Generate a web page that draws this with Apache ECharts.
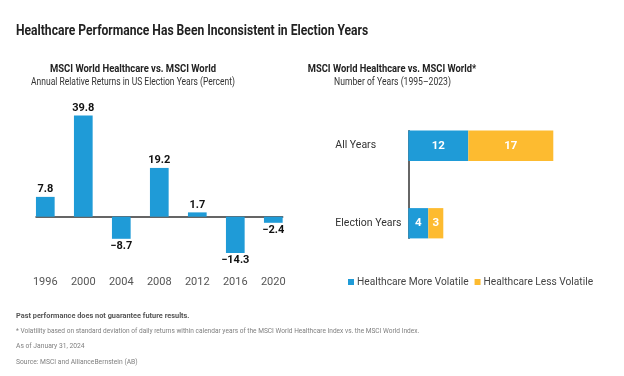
<!DOCTYPE html>
<html>
<head>
<meta charset="utf-8">
<script src="https://cdn.jsdelivr.net/npm/echarts@6/dist/echarts.min.js"></script>
<style>html,body{margin:0;padding:0;background:#fff}#c{width:624px;height:376px}</style>
</head>
<body>
<div id="c"></div>
<script>
const years = ['1996', '2000', '2004', '2008', '2012', '2016', '2020'];
const relReturns = [7.8, 39.8, -8.7, 19.2, 1.7, -14.3, -2.4];
const groups = ['All Years', 'Election Years'];
const moreVolatile = [12, 4];
const lessVolatile = [17, 3];
const seriesNames = ['Healthcare More Volatile', 'Healthcare Less Volatile'];

const BLUE = '#1f9bd7', YELLOW = '#fdbb30';
const FF = 'Roboto, "Liberation Sans", sans-serif';
const fmt = v => (v < 0 ? '\u2212' + Math.abs(v) : String(v));

function txt(text, x, y, size, weight, fill, align, sx) {
  return { type: 'text', x: x, y: y, scaleX: sx, silent: true,
    style: { text: text, fontSize: size, fontWeight: weight, fontFamily: FF, fill: fill,
      textAlign: align, textVerticalAlign: 'middle' } };
}

const chart = echarts.init(document.getElementById('c'), null, { renderer: 'canvas' });
chart.setOption({
  animation: false,
  backgroundColor: '#fff',
  graphic: [
    txt('Healthcare Performance Has Been Inconsistent in Election Years', 16, 31, 14, 'bold', '#222', 'left', 0.865),
    txt('MSCI World Healthcare vs. MSCI World', 133, 69, 10.5, 'bold', '#222', 'center', 0.9),
    txt('Annual Relative Returns in US Election Years (Percent)', 133, 82, 10.5, 'normal', '#333', 'center', 0.81),
    txt('MSCI World Healthcare vs. MSCI World*', 392, 69, 10.5, 'bold', '#222', 'center', 0.89),
    txt('Number of Years (1995\u20132023)', 392.5, 82, 10.5, 'normal', '#333', 'center', 0.82),
    txt('Past performance does not guarantee future results.', 16, 315.7, 8, 'bold', '#555', 'left', 0.92),
    txt('* Volatility based on standard deviation of daily returns within calendar years of the MSCI World Healthcare Index vs. the MSCI World Index.', 16, 330.7, 8, 'normal', '#808080', 'left', 0.82),
    txt('As of January 31, 2024', 16, 346, 8, 'normal', '#808080', 'left', 0.84),
    txt('Source: MSCI and AllianceBernstein (AB)', 16, 361.7, 8, 'normal', '#808080', 'left', 0.84)
  ],
  legend: {
    data: seriesNames,
    left: 343, top: 272,
    icon: 'rect', itemWidth: 6, itemHeight: 6, itemGap: 6,
    textStyle: { fontSize: 10.2, color: '#444', fontFamily: FF, padding: [0, 0, 0, -2] }
  },
  grid: [
    { left: 26.3, right: 331.7, top: 102.4, bottom: 108.5 },
    { left: 36, right: 341.3, top: 102.4, bottom: 108.5 },
    { left: 408.3, width: 200, top: 107, height: 155 },
    { left: 408.3, width: 10, top: 130.7, height: 107.6 }
  ],
  xAxis: [
    { gridIndex: 0, type: 'category', data: years, axisLine: { show: false }, axisTick: { show: false },
      axisLabel: { margin: 9, fontSize: 11, color: '#555', fontFamily: FF } },
    { gridIndex: 1, type: 'category', data: years, axisLine: { show: true, onZero: true, lineStyle: { color: '#333', width: 1.5 } },
      axisTick: { show: false }, axisLabel: { show: false } },
    { gridIndex: 2, type: 'value', min: 0, max: 40, show: false },
    { gridIndex: 3, type: 'value', min: 0, max: 10, show: false }
  ],
  yAxis: [
    { gridIndex: 0, type: 'value', min: -20, max: 45, show: false },
    { gridIndex: 1, type: 'value', min: -20, max: 45, show: false },
    { gridIndex: 2, type: 'category', data: groups, inverse: true, axisLine: { show: false }, axisTick: { show: false },
      axisLabel: { align: 'left', margin: 73, fontSize: 10.5, color: '#333', fontFamily: FF } },
    { gridIndex: 3, type: 'category', data: groups, inverse: true,
      axisLine: { show: true, lineStyle: { color: '#333', width: 1.5 } }, axisTick: { show: false }, axisLabel: { show: false } }
  ],
  series: [
    { type: 'bar', xAxisIndex: 0, yAxisIndex: 0, barWidth: 18.7,
      itemStyle: { color: BLUE },
      data: relReturns.map(v => ({ value: v, label: { position: v < 0 ? 'bottom' : 'top' } })),
      label: { show: true, distance: 2, fontSize: 11, fontWeight: 'bold', color: '#111', fontFamily: FF,
        formatter: p => fmt(p.value) } },
    { type: 'bar', name: seriesNames[0], xAxisIndex: 2, yAxisIndex: 2, stack: 'vol', barWidth: 30.3,
      itemStyle: { color: BLUE }, data: moreVolatile,
      label: { show: true, position: 'inside', color: '#fff', fontWeight: 'bold', fontSize: 11.5, fontFamily: FF } },
    { type: 'bar', name: seriesNames[1], xAxisIndex: 2, yAxisIndex: 2, stack: 'vol', barWidth: 30.3,
      itemStyle: { color: YELLOW }, data: lessVolatile,
      label: { show: true, position: 'inside', color: '#fff', fontWeight: 'bold', fontSize: 11.5, fontFamily: FF } }
  ]
});
</script>
</body>
</html>
